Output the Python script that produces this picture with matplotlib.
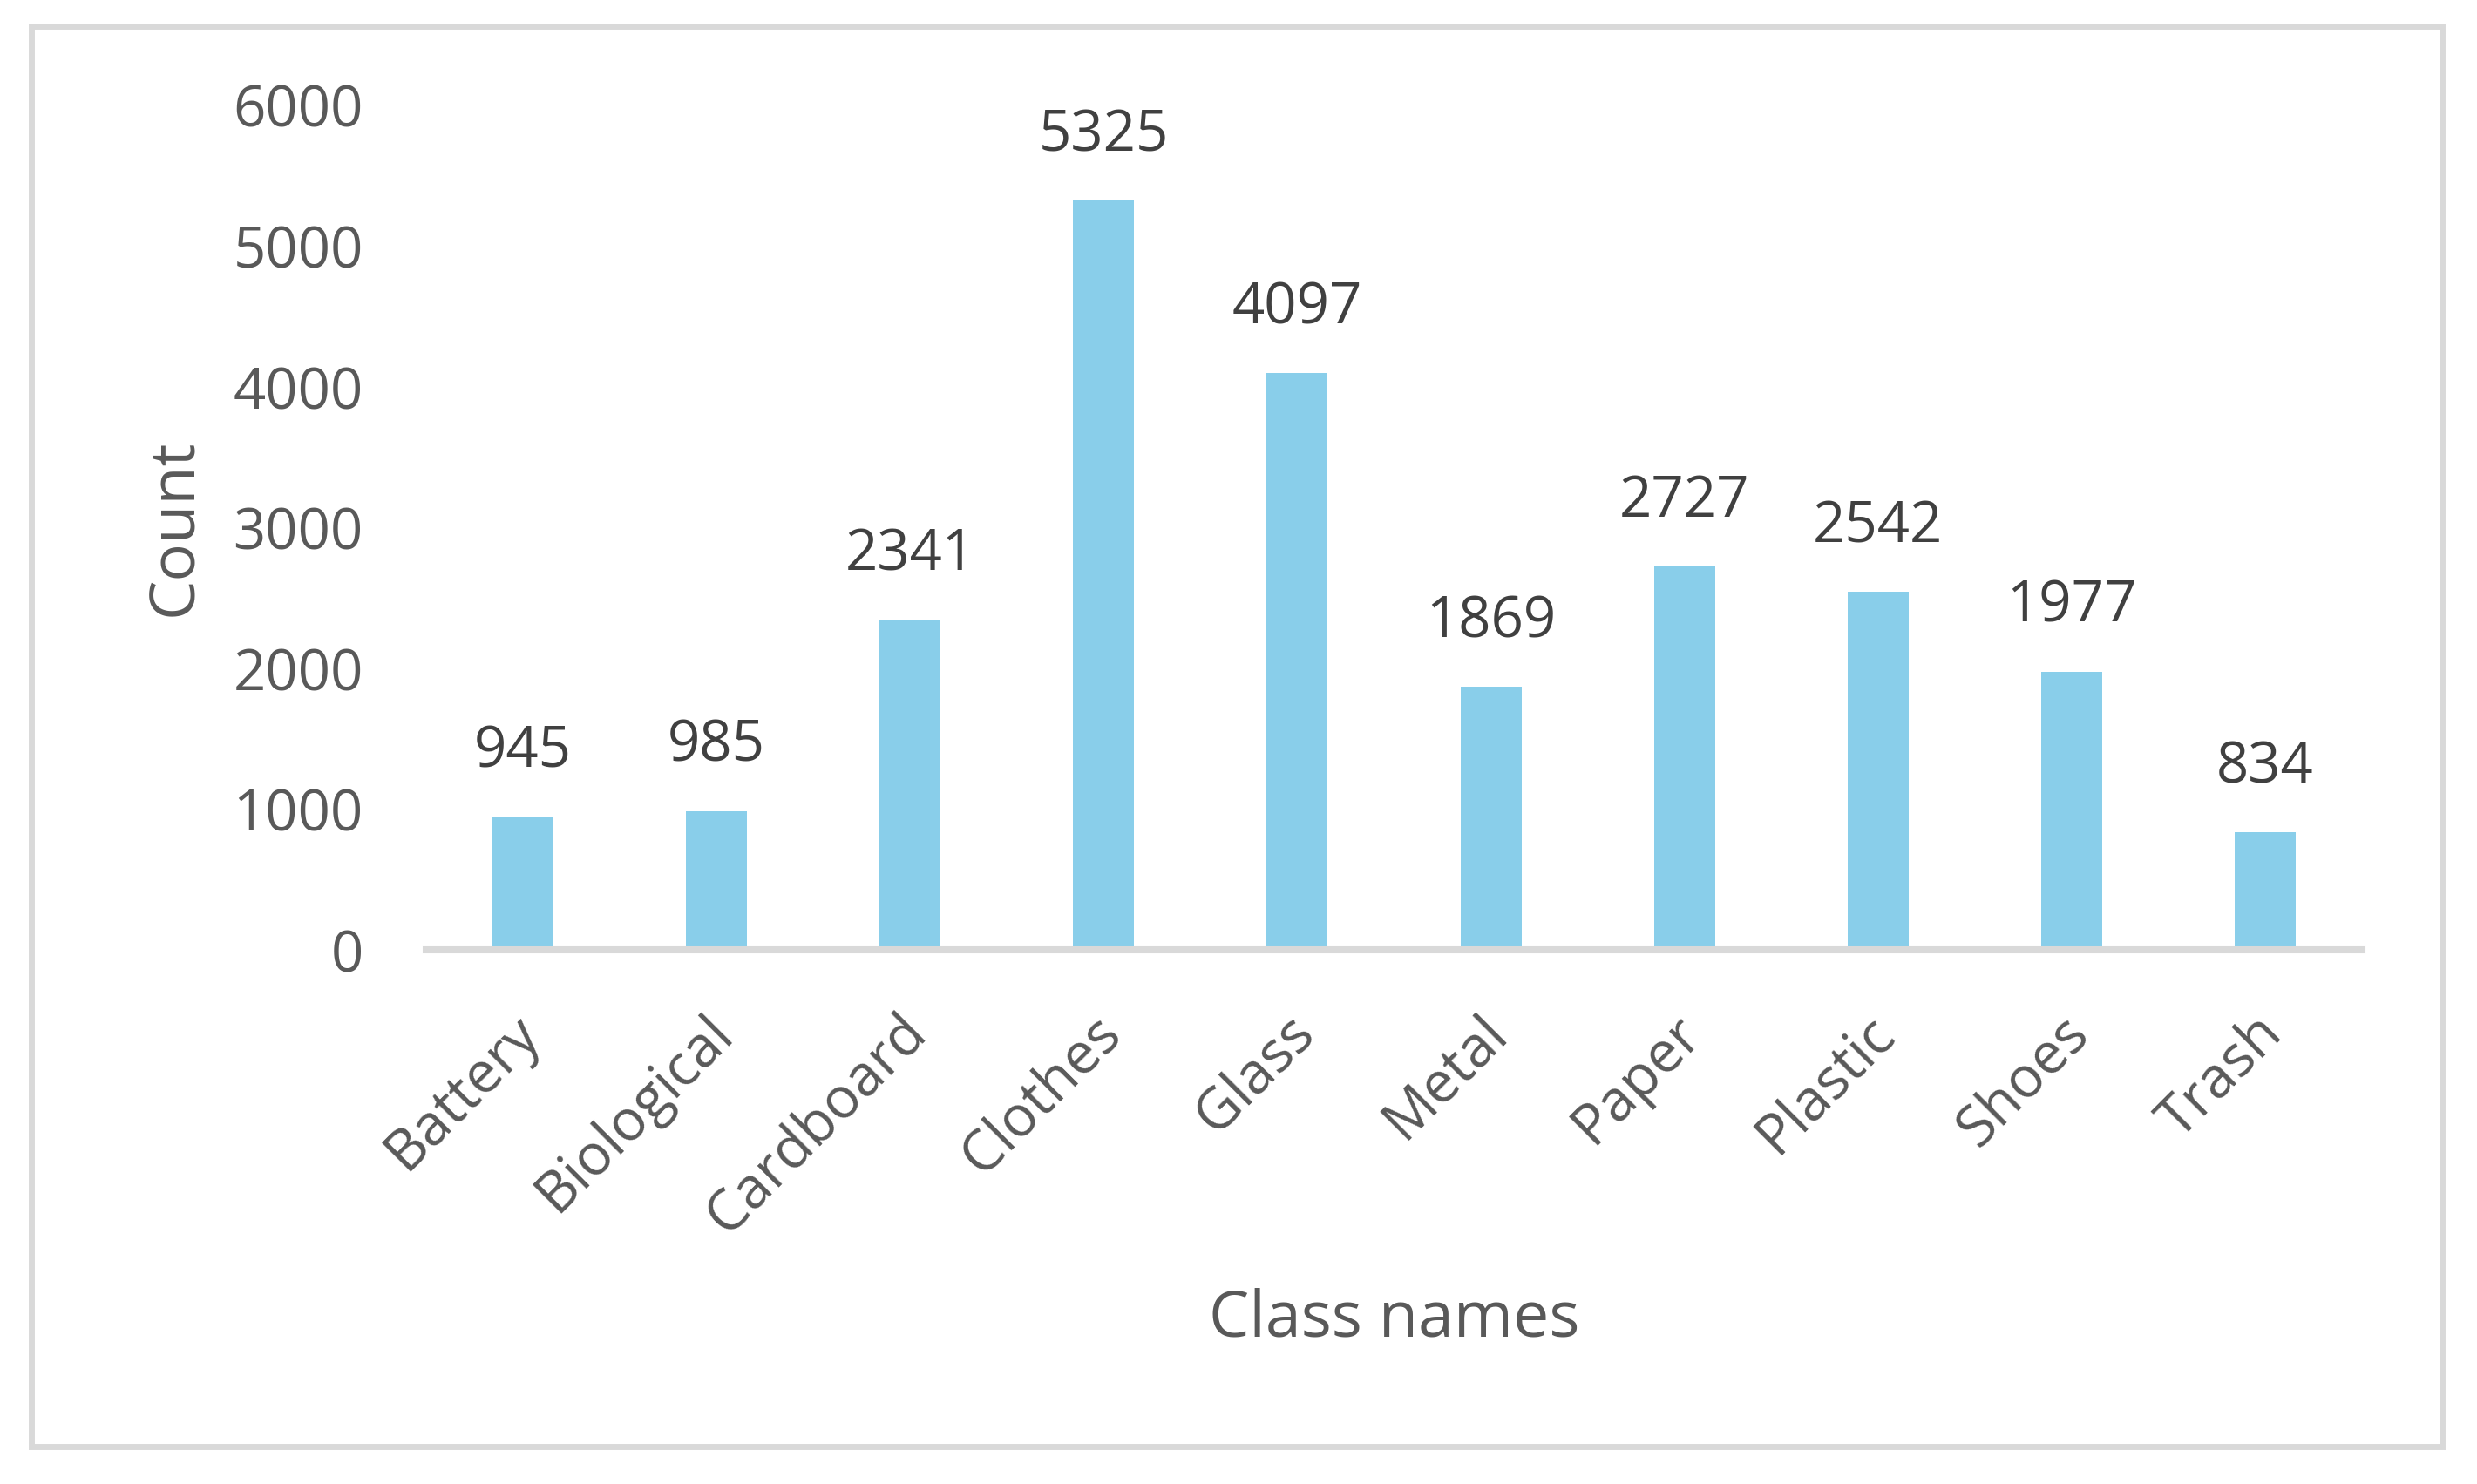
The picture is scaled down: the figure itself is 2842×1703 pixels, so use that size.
import matplotlib
matplotlib.use('Agg')
import matplotlib.pyplot as plt
import matplotlib.transforms as mtransforms
from matplotlib.patches import Rectangle

# data
classes = ['Battery', 'Biological', 'Cardboard', 'Clothes', 'Glass',
           'Metal', 'Paper', 'Plastic', 'Shoes', 'Trash']
counts = [945, 985, 2341, 5325, 4097, 1869, 2727, 2542, 1977, 834]
yticks = [0, 1000, 2000, 3000, 4000, 5000, 6000]

plt.rcParams['font.family'] = ['Open Sans', 'DejaVu Sans']

fig = plt.figure(figsize=(28.42, 17.03), dpi=100)
ax = fig.add_axes([0.17206, 0.35995, 0.95355 - 0.17206, 0.92895 - 0.35995])

x = range(len(classes))
ax.bar(x, counts, width=0.315, color='#89CEEA')

ax.set_xlim(-0.5, len(classes) - 0.5)
ax.set_ylim(0, 6000)
ax.set_yticks(yticks)
ax.set_xticks(list(x))

for s in ['top', 'right', 'left']:
    ax.spines[s].set_visible(False)
ax.spines['bottom'].set_color('#D9D9D9')
ax.spines['bottom'].set_linewidth(5.8)

ax.tick_params(axis='y', length=0, pad=52, labelsize=47, labelcolor='#595959')
ax.tick_params(axis='x', length=0, pad=45, labelsize=47, labelcolor='#595959')

# shift the rotated class names a little to the left
offset = mtransforms.ScaledTranslation(-14 / 100, 0, fig.dpi_scale_trans)
ax.set_xticklabels(classes, rotation=45, ha='right', va='top', rotation_mode='anchor')
for lab in ax.get_xticklabels():
    lab.set_transform(lab.get_transform() + offset)

# value labels
for xi, c in zip(x, counts):
    ax.annotate(str(c), xy=(xi, c), xytext=(0, 41), textcoords='offset points',
                ha='center', va='baseline', fontsize=47, color='#404040')

ax.set_xlabel('Class names', fontsize=53, color='#595959')
ax.xaxis.set_label_coords(0.5, -0.458)
ax.xaxis.label.set_va('baseline')
ax.set_ylabel('Count', fontsize=52, color='#595959')
ax.yaxis.set_label_coords(-0.1211, 0.5005)
ax.yaxis.label.set_va('baseline')

# outer chart border
fig.patches.append(Rectangle((0.01267, 0.02525), 0.98592 - 0.01267, 0.98238 - 0.02525,
                             transform=fig.transFigure, fill=False,
                             edgecolor='#D9D9D9', linewidth=5, zorder=0))

fig.savefig('out.png', dpi=100, facecolor='white')
